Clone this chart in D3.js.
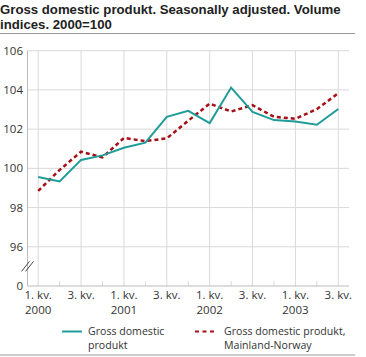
<!DOCTYPE html>
<html><head><meta charset="utf-8">
<script src="https://cdn.jsdelivr.net/npm/d3@7"></script>
<style>
body{margin:0;background:#fff;}
text{font-family:"Open Sans",sans-serif;}
</style></head>
<body><svg id="c" width="366" height="357"></svg>
<script>
const quarters = ["1. kv.","2. kv.","3. kv.","4. kv.","1. kv.","2. kv.","3. kv.","4. kv.","1. kv.","2. kv.","3. kv.","4. kv.","1. kv.","2. kv.","3. kv."];
const years = ["2000","","","","2001","","","","2002","","","","2003","",""];
const gdp = [99.56,99.33,100.43,100.66,101.05,101.31,102.63,102.93,102.31,104.12,102.88,102.46,102.39,102.22,103.03];
const mainland = [98.85,99.92,100.85,100.56,101.55,101.39,101.53,102.43,103.30,102.90,103.22,102.63,102.53,103.02,103.83];
const yTicks = [96,98,100,102,104,106];
const seriesNames = [["Gross domestic","produkt"],["Gross domestic produkt,","Mainland-Norway"]];
const titleLines = ["Gross domestic produkt. Seasonally adjusted. Volume","indices. 2000=100"];

const svg = d3.select("#c");
const L = 27.5, R = 349, T = 50.7, B = 286;
const x = d3.scaleLinear().domain([-0.5, 14.5]).range([L, R]);
const y = d3.scaleLinear().domain([94, 106]).range([B, T]);

// title (auto-fit first line to 341px)
const tts = titleLines.map((t,i)=>svg.append("text").attr("x",0).attr("y",13.5+i*15.5)
  .style("font-family","'Liberation Sans',Arial,sans-serif").attr("font-size",13).attr("font-weight","bold").attr("fill","#222").text(t));
const w0 = tts[0].node().getComputedTextLength();
const fs = Math.min(14, 13*341/w0);
tts.forEach(t=>t.attr("font-size",fs));
svg.append("line").attr("x1",0).attr("x2",355).attr("y1",33.5).attr("y2",33.5).attr("stroke","#999").attr("stroke-width",1);
svg.append("line").attr("x1",0).attr("x2",355).attr("y1",355).attr("y2",355).attr("stroke","#999").attr("stroke-width",1);

// grid horizontal
svg.append("g").selectAll("line").data(yTicks).join("line")
  .attr("x1",L).attr("x2",R).attr("y1",d=>y(d)).attr("y2",d=>y(d))
  .attr("stroke","#d9d9d9").attr("stroke-width",1);
// grid vertical at Q1/Q3
const idx = d3.range(quarters.length);
svg.append("g").selectAll("line").data(idx.filter(i=>i%2===0)).join("line")
  .attr("x1",d=>x(d)).attr("x2",d=>x(d)).attr("y1",T).attr("y2",B)
  .attr("stroke","#d9d9d9").attr("stroke-width",1);
// minor ticks
svg.append("g").selectAll("line").data(idx.filter(i=>i%2===1)).join("line")
  .attr("x1",d=>x(d)).attr("x2",d=>x(d)).attr("y1",B-5).attr("y2",B)
  .attr("stroke","#d9d9d9").attr("stroke-width",1);

// axes lines
svg.append("line").attr("x1",L).attr("x2",L).attr("y1",T).attr("y2",B).attr("stroke","#bbb");
svg.append("line").attr("x1",L).attr("x2",R).attr("y1",B).attr("y2",B).attr("stroke","#bbb");
// break symbol
const by = (y(96)+y(94))/2;
[-2,2].forEach(o=>{
  svg.append("line").attr("x1",L-4+o).attr("x2",L+4+o).attr("y1",by+5).attr("y2",by-5).attr("stroke","#444").attr("stroke-width",1);
});

// y labels
svg.append("g").selectAll("text").data(yTicks).join("text")
  .attr("x",23).attr("y",d=>y(d)+4).attr("text-anchor","end").attr("font-size",11.5).attr("fill","#333").text(d=>d);
svg.append("text").attr("x",23).attr("y",y(94)+4).attr("text-anchor","end").attr("font-size",11.5).attr("fill","#333").text("0");

// x labels
svg.append("g").selectAll("text").data(idx.filter(i=>i%2===0)).join("text")
  .attr("x",d=>x(d)).attr("y",299).attr("text-anchor","middle").attr("font-size",11.5).attr("fill","#333").text(d=>quarters[d]);
svg.append("g").selectAll("text").data(idx.filter(i=>years[i])).join("text")
  .attr("x",d=>x(d)).attr("y",313.5).attr("text-anchor","middle").attr("font-size",11.5).attr("fill","#333").text(d=>years[d]);

// lines
const line = d3.line().x((d,i)=>x(i)).y(d=>y(d));
svg.append("path").datum(mainland).attr("d",line).attr("fill","none").attr("stroke","#a50f15").attr("stroke-width",2.5).attr("stroke-dasharray","4,3");
svg.append("path").datum(gdp).attr("d",line).attr("fill","none").attr("stroke","#1f9c98").attr("stroke-width",2);

// legend
const lg = svg.append("g");
lg.append("line").attr("x1",62).attr("x2",82).attr("y1",331.5).attr("y2",331.5).attr("stroke","#1f9c98").attr("stroke-width",2);
lg.append("line").attr("x1",195).attr("x2",216).attr("y1",331.5).attr("y2",331.5).attr("stroke","#a50f15").attr("stroke-width",2).attr("stroke-dasharray","4,3.5");
[[88,0],[224,1]].forEach(([lx,k])=>{
  const t = lg.append("text").attr("font-size",10.6).attr("fill","#333");
  seriesNames[k].forEach((s,j)=>t.append("tspan").attr("x",lx).attr("y",335+j*14).text(s));
});
</script></body></html>
